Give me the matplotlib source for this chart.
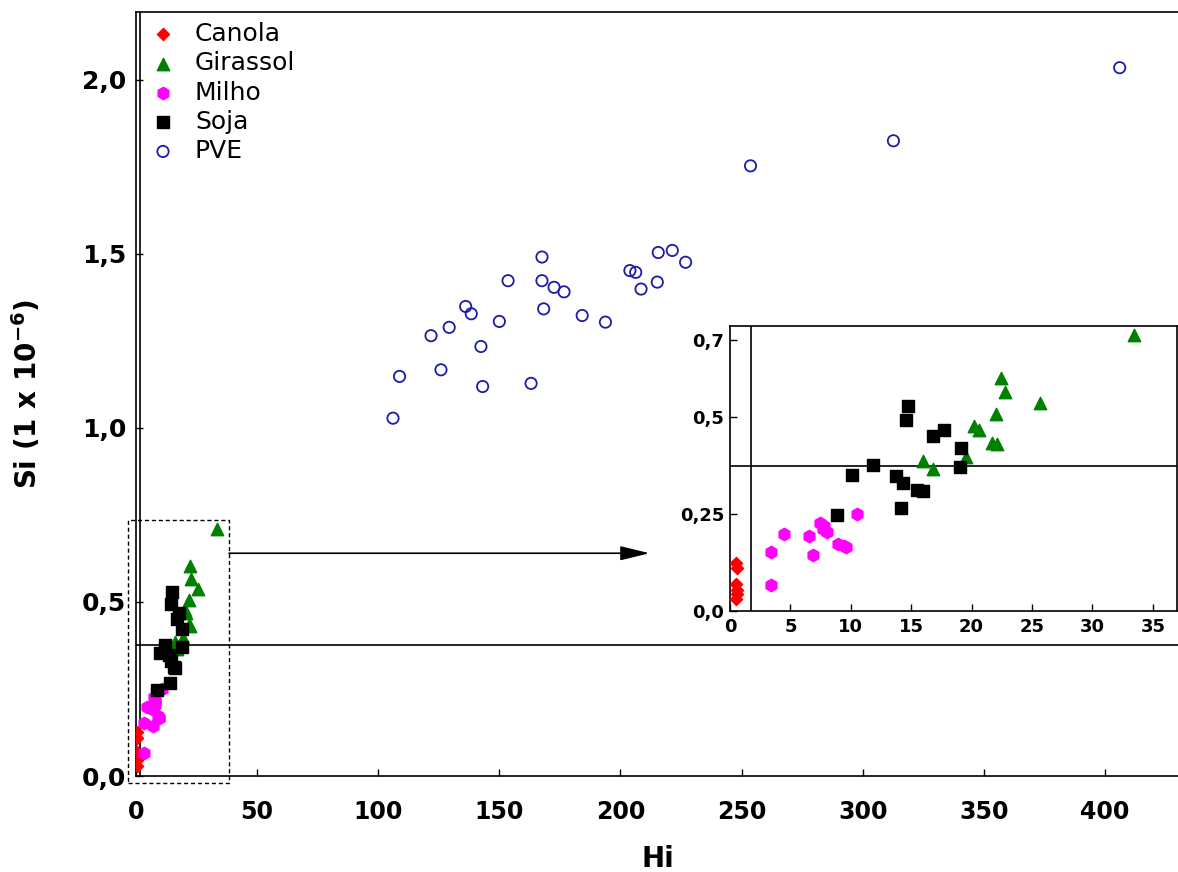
import matplotlib.pyplot as plt
from matplotlib.patches import Rectangle

# Hi / Si values per sample group
canola_hi = [0.5, 0.6, 0.5, 0.6, 0.5, 0.55]
canola_si = [0.125, 0.11, 0.07, 0.055, 0.03, 0.045]

girassol_hi = [33.4, 22.4, 22.8, 25.7, 22.0, 20.2, 20.6, 21.7, 22.1, 19.5, 16.0, 16.8]
girassol_si = [0.711, 0.602, 0.565, 0.536, 0.507, 0.478, 0.467, 0.434, 0.431, 0.397, 0.386, 0.366]

milho_hi = [3.36, 3.36, 4.49, 6.5, 6.83, 7.44, 7.66, 7.99, 7.8, 8.96, 9.4, 9.6, 10.55]
milho_si = [0.067, 0.151, 0.198, 0.193, 0.145, 0.228, 0.212, 0.205, 0.218, 0.172, 0.168, 0.166, 0.249]

soja_hi = [8.82, 10.09, 11.85, 13.78, 14.33, 14.19, 14.74, 14.6, 15.49, 15.98, 16.81, 17.72, 19.15, 19.01]
soja_si = [0.248, 0.352, 0.377, 0.347, 0.329, 0.266, 0.528, 0.493, 0.312, 0.309, 0.451, 0.467, 0.421, 0.372]

pve_hi = [106.1, 108.8, 121.8, 129.3, 125.9, 136.1, 138.4, 142.4, 143.1, 150.0,
          153.6, 167.6, 167.6, 168.3, 163.1, 172.6, 176.7, 184.2, 193.8, 203.9,
          206.3, 208.5, 215.2, 215.6, 221.4, 226.9, 253.7, 312.7, 406.1]
pve_si = [1.028, 1.148, 1.265, 1.289, 1.167, 1.349, 1.328, 1.234, 1.119, 1.306,
          1.423, 1.491, 1.423, 1.342, 1.128, 1.404, 1.391, 1.323, 1.304, 1.452,
          1.447, 1.399, 1.419, 1.504, 1.510, 1.476, 1.753, 1.825, 2.035]

si_limit = 0.375
hi_limit = 1.7

main_xticks = [0, 50, 100, 150, 200, 250, 300, 350, 400]
main_yticks = [0.0, 0.5, 1.0, 1.5, 2.0]
main_ylabels = ['0,0', '0,5', '1,0', '1,5', '2,0']
inset_xticks = [0, 5, 10, 15, 20, 25, 30, 35]
inset_yticks = [0.0, 0.25, 0.5, 0.7]
inset_ylabels = ['0,0', '0,25', '0,5', '0,7']

plt.rcParams['font.family'] = 'DejaVu Sans'
plt.rcParams['mathtext.default'] = 'bf'

W, H = 1178, 872
fig = plt.figure(figsize=(W / 100, H / 100), dpi=100)


def draw_groups(a):
    a.scatter(canola_hi, canola_si, marker='D', s=38, c='#ff0000', label='Canola', zorder=3)
    a.scatter(girassol_hi, girassol_si, marker='^', s=80, c='#008000', label='Girassol', zorder=3)
    a.scatter(milho_hi, milho_si, marker='h', s=80, c='#ff00ff', label='Milho', zorder=3)
    a.scatter(soja_hi, soja_si, marker='s', s=80, c='black', label='Soja', zorder=3)
    a.scatter(pve_hi, pve_si, marker='o', s=66, facecolors='none', edgecolors='#1c1ca8',
              linewidths=1.3, label='PVE', zorder=3)
    a.axhline(si_limit, color='black', lw=1.2, zorder=2)
    a.axvline(hi_limit, color='black', lw=1.2, zorder=2)
    for sp in a.spines.values():
        sp.set_linewidth(1.2)
    a.tick_params(direction='in', length=5, width=1)


ax = fig.add_axes([136 / W, 96 / H, 1044 / W, 764 / H])
draw_groups(ax)
ax.set_xlim(0, 431)
ax.set_ylim(0, 2.195)
ax.set_xticks(main_xticks)
ax.set_yticks(main_yticks)
ax.set_yticklabels(main_ylabels)
ax.tick_params(axis='x', labelsize=17, pad=17.5)
ax.tick_params(axis='y', labelsize=18, pad=7)
for lbl in ax.get_xticklabels() + ax.get_yticklabels():
    lbl.set_fontweight('bold')
ax.set_xlabel('Hi', fontsize=20, fontweight='bold', labelpad=15)
ax.set_ylabel(r'Si (1 x 10$^{-6}$)', fontsize=20, fontweight='bold', labelpad=28)

ax.legend(loc='upper left', bbox_to_anchor=(0.0043, 1.0), frameon=False, fontsize=18,
          handletextpad=0.78, labelspacing=0.21, borderaxespad=0, handlelength=1.0,
          scatterpoints=1)

# zoom box around the low-Hi cluster and the pointer to the inset
ax.add_patch(Rectangle((-3.3, -0.02), 41.7, 0.756, fill=False, ec='black', lw=1,
                       ls=(0, (3, 2)), clip_on=False, zorder=4))
ax.annotate('', xy=(212, 0.64), xytext=(38.4, 0.64),
            arrowprops=dict(arrowstyle='-|>,head_length=0.9,head_width=0.22', color='black',
                            lw=1.2, shrinkA=0, shrinkB=0, mutation_scale=20))

ins = fig.add_axes([730 / W, 1 - 611 / H, 447 / W, 285 / H])
draw_groups(ins)
ins.set_xlim(0, 37)
ins.set_ylim(0, 0.735)
ins.set_xticks(inset_xticks)
ins.set_yticks(inset_yticks)
ins.set_yticklabels(inset_ylabels)
ins.tick_params(axis='x', labelsize=13, pad=5)
ins.tick_params(axis='y', labelsize=13, pad=4)
for lbl in ins.get_xticklabels() + ins.get_yticklabels():
    lbl.set_fontweight('bold')

fig.savefig('out.png', dpi=100, facecolor='white')
